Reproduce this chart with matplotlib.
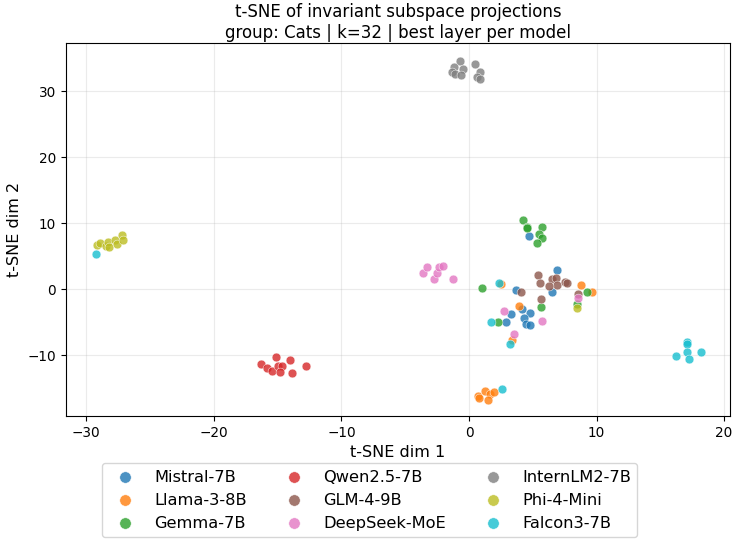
import matplotlib
matplotlib.use("Agg")
import matplotlib.pyplot as plt
import numpy as np

# points, per model
models = ["Mistral-7B", "Llama-3-8B", "Gemma-7B", "Qwen2.5-7B", "GLM-4-9B",
          "DeepSeek-MoE", "InternLM2-7B", "Phi-4-Mini", "Falcon3-7B"]
colors = ["#1f77b4", "#ff7f0e", "#2ca02c", "#d62728", "#8c564b",
          "#e377c2", "#7f7f7f", "#bcbd22", "#17becf"]

mistral_x = [4.70, 6.87, 6.48, 3.66, 3.29, 4.18, 4.78, 4.34, 4.44, 4.78, 2.90]
mistral_y = [8.08, 2.98, -0.41, -0.05, -3.69, -3.03, -3.53, -4.29, -5.30, -5.45, -4.90]

llama_x = [2.51, 8.78, 9.62, 3.94, 3.35, 0.73, 1.25, 1.65, 1.98, 1.51, 0.80]
llama_y = [0.86, 0.61, -0.41, -2.53, -7.73, -16.2, -15.4, -15.9, -15.55, -16.8, -16.4]

gemma_x = [4.26, 4.52, 5.70, 5.49, 5.70, 5.31, 0.99, 9.22, 5.62, 2.25, 8.44, 4.55]
gemma_y = [10.56, 9.44, 9.44, 8.33, 7.83, 7.08, 0.15, -0.41, -2.68, -5.0, -2.2, 9.3]

qwen_x = [-16.3, -15.8, -15.42, -15.13, -14.94, -14.68, -14.81, -14.03, -13.85, -12.80]
qwen_y = [-11.26, -11.86, -12.37, -10.26, -11.67, -11.67, -12.53, -10.66, -12.63, -11.57]

glm_x = [5.43, 5.56, 6.48, 6.79, 6.87, 6.29, 7.52, 7.71, 4.08, 5.64, 8.52]
glm_y = [2.12, 0.96, 1.52, 1.71, 0.71, 0.45, 1.11, 1.01, -0.41, -1.41, -0.66]

deepseek_x = [-3.63, -3.27, -2.72, -2.48, -2.33, -2.01, -1.23, 2.77, 5.70, 3.55, 8.52]
deepseek_y = [2.47, 3.38, 1.52, 2.47, 3.38, 3.59, 1.62, -3.33, -4.80, -6.72, -1.26]

internlm_x = [-0.71, -1.18, -0.44, -1.36, -1.10, -0.65, 0.45, 0.86, 0.65, 0.86]
internlm_y = [34.6, 33.7, 33.4, 32.9, 32.6, 32.4, 34.1, 32.9, 32.2, 31.9]

phi_x = [-29.18, -28.92, -28.47, -28.32, -28.19, -27.74, -27.61, -27.17, -27.09, 8.44]
phi_y = [6.67, 7.02, 6.56, 7.17, 6.41, 7.42, 6.82, 8.18, 7.42, -2.8]

falcon_x = [-29.23, 2.35, 1.72, 3.21, 2.61, 17.06, 17.06, 17.06, 16.27, 17.24, 18.16]
falcon_y = [5.41, 0.96, -5.0, -8.28, -15.15, -7.98, -8.33, -9.49, -10.1, -10.5, -9.49]

xs = [mistral_x, llama_x, gemma_x, qwen_x, glm_x, deepseek_x, internlm_x, phi_x, falcon_x]
ys = [mistral_y, llama_y, gemma_y, qwen_y, glm_y, deepseek_y, internlm_y, phi_y, falcon_y]

fig, ax = plt.subplots(figsize=(7.32, 5.39), dpi=100)
fig.subplots_adjust(left=0.09, right=0.997, top=0.92, bottom=0.228)

for name, c, x, y in zip(models, colors, xs, ys):
    ax.scatter(x, y, s=40, color=c, alpha=0.8, edgecolors="white",
               linewidths=0.4, label=name)

ax.set_xlim(-31.6, 20.45)
ax.set_ylim(-19.2, 37.3)
ax.grid(True, alpha=0.25)
ax.set_axisbelow(True)
ax.set_xlabel("t-SNE dim 1", fontsize=11.5)
ax.set_ylabel("t-SNE dim 2", fontsize=11.5)
ax.set_title("t-SNE of invariant subspace projections\ngroup: Cats | k=32 | best layer per model",
             fontsize=12, pad=4)
ax.tick_params(labelsize=9.8)

fig.legend(loc="upper center", bbox_to_anchor=(0.505, 0.141), ncol=3,
           fontsize=11.7, markerscale=1.3, columnspacing=1.9, handletextpad=0.8,
           labelspacing=0.5, borderaxespad=0)

fig.savefig("out.png", dpi=100)
